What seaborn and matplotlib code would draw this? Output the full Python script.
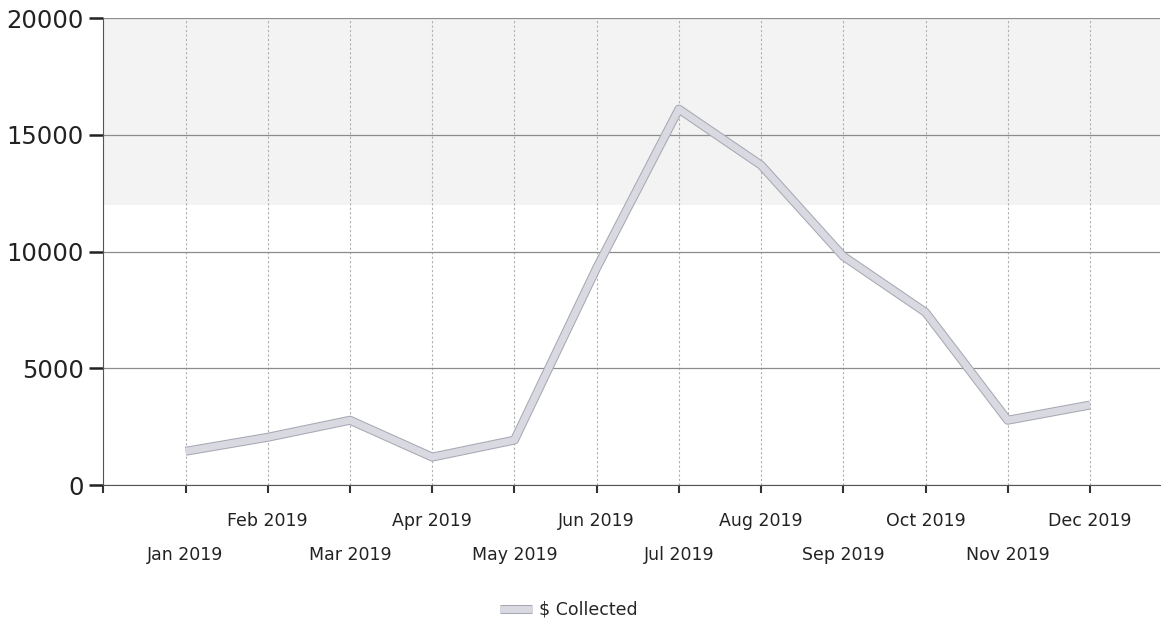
import pandas as pd
import seaborn as sns
import matplotlib.pyplot as plt
import matplotlib.patheffects as pe

# Monthly amounts
months = ['Jan 2019', 'Feb 2019', 'Mar 2019', 'Apr 2019', 'May 2019', 'Jun 2019',
          'Jul 2019', 'Aug 2019', 'Sep 2019', 'Oct 2019', 'Nov 2019', 'Dec 2019']
collected = [1450, 2050, 2780, 1200, 1930, 9300, 16100, 13700, 9800, 7400, 2780, 3430]
y_ticks = [0, 5000, 10000, 15000, 20000]

df = pd.DataFrame({'pos': range(len(months)), 'month': months, 'collected': collected})

sns.set_style('white', {'xtick.bottom': True, 'ytick.left': True})
plt.rcParams['font.family'] = ['DejaVu Sans']

fig = plt.figure(figsize=(11.61, 6.22), dpi=100)
ax = fig.add_axes([0.089, 0.22, 0.91, 0.751])

# faint shaded band at the top of the plot area (as in the print)
ax.axhspan(12000, 20000, color='#f3f3f3', zorder=0, lw=0)

sns.lineplot(data=df, x='pos', y='collected', ax=ax, color='#d9d9e2', linewidth=5,
             label='$ Collected', legend=False, zorder=3, solid_capstyle='butt',
             path_effects=[pe.Stroke(linewidth=6.5, foreground='#a8a8b4'), pe.Normal()])

ax.set_xlim(-1, 11.85)
ax.set_ylim(0, 20000)
ax.set_yticks(y_ticks)
ax.set_yticklabels([str(v) for v in y_ticks], fontsize=17.5)
ax.tick_params(axis='y', left=True, length=10, width=1.8, pad=4, colors='#222222')

# even months on the upper row, odd months on the lower row
upper = [i for i in range(len(months)) if i % 2 == 1]
lower = [i for i in range(len(months)) if i % 2 == 0]
ax.set_xticks([-1] + upper)
ax.set_xticklabels([''] + [months[i] for i in upper], fontsize=12.5, color='#222222')
ax.set_xticks(lower, minor=True)
ax.set_xticklabels([months[i] for i in lower], minor=True, fontsize=12.5, color='#222222')
ax.tick_params(axis='x', which='major', bottom=True, length=6, width=1.5, pad=13, color='#333333')
ax.tick_params(axis='x', which='minor', bottom=True, length=6, width=1.5, pad=38, color='#333333')
ax.set_xlabel('')
ax.set_ylabel('')

ax.grid(axis='x', which='both', color='#b0b0b0', linestyle=(0, (2, 2)), linewidth=0.8)
ax.grid(axis='y', which='major', color='#8c8c8c', linestyle='-', linewidth=0.9)
ax.set_axisbelow(True)

for s in ['top', 'right']:
    ax.spines[s].set_visible(False)
ax.spines['left'].set_color('#555555')
ax.spines['bottom'].set_color('#555555')

fig.legend(loc='lower center', bbox_to_anchor=(0.49, -0.02), frameon=False,
           fontsize=12.5, handlelength=1.8, handletextpad=0.4)

plt.savefig('out.png', dpi=100)
